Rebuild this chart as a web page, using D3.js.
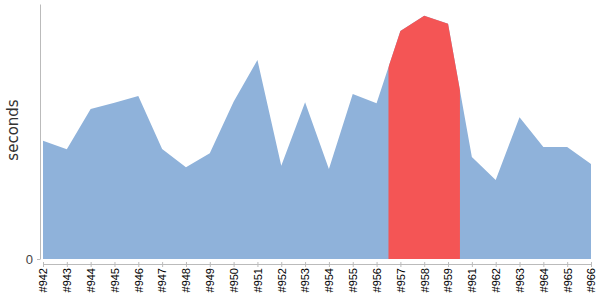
<!DOCTYPE html>
<html>
<head>
<meta charset="utf-8">
<script src="https://cdn.jsdelivr.net/npm/d3@7"></script>
<style>
body{margin:0;background:#fff;}
svg{display:block;font-family:"DejaVu Sans",sans-serif;}
</style>
</head>
<body>
<script>
// build ids along the x axis (#960 missing)
const builds = ["#942","#943","#944","#945","#946","#947","#948","#949","#950","#951","#952","#953",
	"#954","#955","#956","#957","#958","#959","#961","#962","#963","#964","#965","#966"];
// duration per build
const seconds = [46.4,43.0,58.8,61.3,63.9,43.1,36.0,41.5,61.7,78.0,36.6,61.5,
	35.3,64.7,61.1,89.4,95.4,92.3,40.0,31.0,55.6,43.9,43.9,37.3];
// highlighted builds
const highlight = ["#957","#959"];
const yTicks = [0];

const width = 600, height = 300;
const margin = {top:4, right:9, bottom:41, left:43};

const svg = d3.select("body").append("svg")
	.attr("width",width)
	.attr("height",height);

const x = d3.scalePoint()
	.domain(builds)
	.range([margin.left, width-margin.right]);
const y = d3.scaleLinear()
	.domain([0,100])
	.range([height-margin.bottom, margin.top]);

const data = builds.map((b,i)=>({b:b, v:seconds[i]}));

const area = d3.area()
	.x(d=>x(d.b))
	.y0(y(0))
	.y1(d=>y(d.v));

//clip for the red part
const step = x.step();
svg.append("clipPath").attr("id","hl")
	.append("rect")
	.attr("x", x(highlight[0]) - step/2)
	.attr("width", x(highlight[1]) - x(highlight[0]) + step)
	.attr("y", 0)
	.attr("height", height);

svg.append("path")
	.datum(data)
	.attr("fill","#8fb2da")
	.attr("d",area);

svg.append("path")
	.datum(data)
	.attr("fill","#f45555")
	.attr("clip-path","url(#hl)")
	.attr("d",area);

//x axis
const xAxis = svg.append("g")
	.attr("transform","translate(0,"+(height-margin.bottom+5)+")")
	.call(d3.axisBottom(x).tickSize(3).tickSizeOuter(0).tickPadding(4));
xAxis.select(".domain").attr("stroke","#bbb");
xAxis.selectAll(".tick line").attr("stroke","#bbb").attr("y1",-2);
xAxis.selectAll(".tick text")
	.attr("font-size",11)
	.attr("fill","#000")
	.attr("transform","rotate(-90)")
	.attr("text-anchor","end")
	.attr("x",-4)
	.attr("y",0)
	.attr("dy","0.35em");

//y axis
const yAxis = svg.append("g")
	.attr("transform","translate(40,0)")
	.call(d3.axisLeft(y).tickValues(yTicks).tickSize(3).tickSizeOuter(0).tickPadding(4));
yAxis.select(".domain").attr("stroke","#bbb");
yAxis.selectAll(".tick line").attr("stroke","#bbb");
yAxis.selectAll(".tick text").attr("font-size",13).attr("fill","#444");

svg.append("text")
	.attr("transform","translate(18,130) rotate(-90)")
	.attr("text-anchor","middle")
	.attr("font-size",15)
	.attr("fill","#333")
	.text("seconds");
</script>
</body>
</html>
